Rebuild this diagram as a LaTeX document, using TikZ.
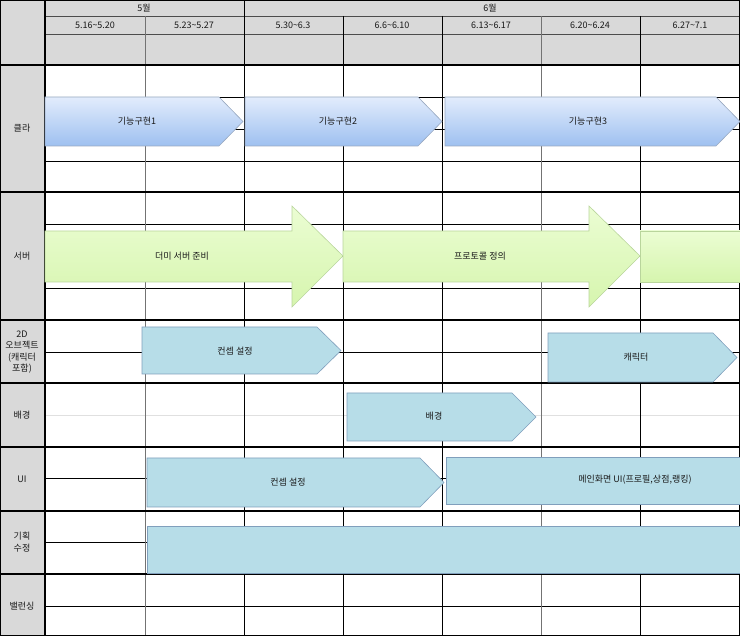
\documentclass[tikz,border=0pt]{standalone}
\usepackage{fontspec}
\setmainfont{Noto Sans CJK KR}
\usetikzlibrary{calc}
\definecolor{headgray}{HTML}{D9D9D9}
\definecolor{clatop}{HTML}{E2ECFC}
\definecolor{clabot}{HTML}{9EC0F0}
\definecolor{claline}{HTML}{98A8C0}
\definecolor{srvtop}{HTML}{EBFDD3}
\definecolor{srvbot}{HTML}{D6F5AE}
\definecolor{srvline}{HTML}{B9D59C}
\definecolor{taskfill}{HTML}{B7DDE8}
\definecolor{taskline}{HTML}{809FBC}

\begin{document}
\begin{tikzpicture}[x=1pt,y=-1pt,
    every node/.style={font=\fontsize{9}{11.5}\selectfont, inner sep=1pt, text=black!90},
    rowline/.style={line width=1.2pt},
    subline/.style={line width=0.5pt},
    colline/.style={line width=0.8pt},
    clabar/.style={draw=claline, line width=0.6pt, top color=clatop, bottom color=clabot},
    srvbar/.style={draw=srvline, line width=0.6pt, top color=srvtop, bottom color=srvbot},
    taskbar/.style={draw=taskline, line width=0.6pt, fill=taskfill}]
      \useasboundingbox (0,0) rectangle (740,636);
      \fill[headgray] (0,0) rectangle (740,65);
      \fill[headgray] (0,65) rectangle (45,636);

      \foreach \y in {97,129,161,224,256,288,352,478,542,606}
        \draw[subline] (45,\y) -- (740,\y);
      \draw[subline, black!12] (45,415) -- (740,415);
      \draw[subline, black!70] (45,16) -- (740,16);
      \draw[subline, black!70] (45,34) -- (740,34);
      \foreach \x in {343,442,640}
        \draw[colline] (\x,16) -- (\x,636);
      \foreach \x in {145,541}
        \draw[colline, black!55] (\x,16) -- (\x,636);
      \draw[colline] (244,0) -- (244,636);
      \foreach \y in {65,192,320,383,447,511,574}
        \draw[rowline] (0,\y) -- (740,\y);
      \draw[rowline] (45,0) -- (45,636);
      \draw[rowline] (0,0) rectangle (740,636);

      \node (may) at (144,8) {5월};
      \node (june) at (490,8) {6월};
      \foreach \x/\d [count=\i] in {95/5.16\textasciitilde5.20, 194/5.23\textasciitilde5.27,
          293/5.30\textasciitilde6.3, 392/6.6\textasciitilde6.10, 491/6.13\textasciitilde6.17,
          590/6.20\textasciitilde6.24, 690/6.27\textasciitilde7.1}
        \node (wk\i) at (\x,25) {\d};

      \node (cla) at (22,128) {클라};
      \node (srv) at (22,256) {서버};
      \node[align=center] (obj) at (22,352) {2D\\오브젝트\\(캐릭터\\포함)};
      \node (bg) at (22,415) {배경};
      \node (ui) at (22,479) {UI};
      \node[align=center] (plan) at (22,542) {기획\\수정};
      \node (bal) at (22,606) {밸런싱};

      \draw[clabar] (45,97) -- (219,97) -- (243,121.5) -- (219,146) -- (45,146) -- cycle;
      \draw[clabar] (245,97) -- (418,97) -- (442,121.5) -- (418,146) -- (245,146) -- cycle;
      \draw[clabar] (445,97) -- (716,97) -- (740,121.5) -- (716,146) -- (445,146) -- cycle;
      \node (cla1) at (137,121.5) {기능구현1};
      \node (cla2) at (338,121.5) {기능구현2};
      \node (cla3) at (588,121.5) {기능구현3};

      \draw[srvbar] (640,231) -- (742,231) -- (742,282) -- (640,282) -- cycle;
      \draw[srvbar] (45,231) -- (292,231) -- (292,206) -- (343,256) -- (292,307) -- (292,282) -- (45,282) -- cycle;
      \draw[srvbar] (343,231) -- (589,231) -- (589,206) -- (640,256) -- (589,307) -- (589,282) -- (343,282) -- cycle;
      \node (srv1) at (182,256) {더미 서버 준비};
      \node (srv2) at (480,256) {프로토콜 정의};

      \draw[taskbar] (142,327) -- (317,327) -- (341,350.5) -- (317,374) -- (142,374) -- cycle;
      \draw[taskbar] (548,333) -- (713,333) -- (737,357.5) -- (713,382) -- (548,382) -- cycle;
      \draw[taskbar] (347,393) -- (512,393) -- (536,417) -- (512,441) -- (347,441) -- cycle;
      \draw[taskbar] (147,458) -- (420,458) -- (444,482.5) -- (420,507) -- (147,507) -- cycle;
      \draw[taskbar] (446,457) rectangle (742,504);
      \draw[taskbar] (147,526) rectangle (742,573);
      \node (obj1) at (235,351) {컨셉 설정};
      \node (obj2) at (636,357) {캐릭터};
      \node (bg1) at (434,416) {배경};
      \node (ui1) at (288,482) {컨셉 설정};
      \node (ui2) at (635,480) {메인화면 UI(프로필,상점,랭킹)};
    \end{tikzpicture}
\end{document}
